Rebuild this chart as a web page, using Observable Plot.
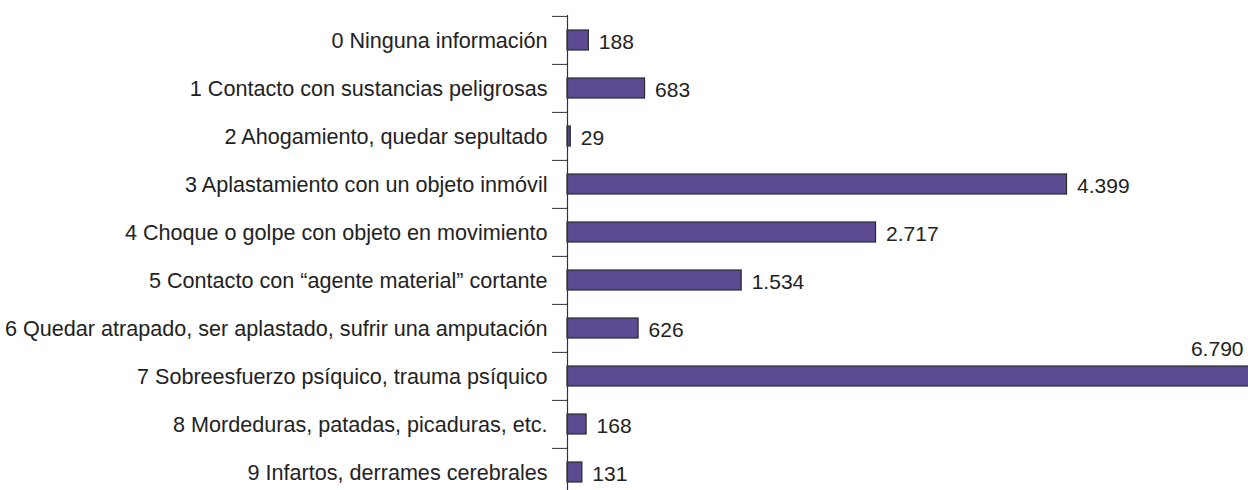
<!DOCTYPE html>
<html>
<head>
<meta charset="utf-8">
<script src="https://cdn.jsdelivr.net/npm/d3@7"></script>
<script src="https://cdn.jsdelivr.net/npm/@observablehq/plot@0.6"></script>
<style>
  html, body { margin: 0; padding: 0; background: #fff; overflow: hidden; }
  #chart svg { display: block; font-family: "Liberation Sans", Arial, Helvetica, sans-serif; }
</style>
</head>
<body>
<div id="chart"></div>
<script>
const categories = [
  "0 Ninguna información",
  "1 Contacto con sustancias peligrosas",
  "2 Ahogamiento, quedar sepultado",
  "3 Aplastamiento con un objeto inmóvil",
  "4 Choque o golpe con objeto en movimiento",
  "5 Contacto con “agente material” cortante",
  "6 Quedar atrapado, ser aplastado, sufrir una amputación",
  "7 Sobreesfuerzo psíquico, trauma psíquico",
  "8 Mordeduras, patadas, picaduras, etc.",
  "9 Infartos, derrames cerebrales"
];
const values = [188, 683, 29, 4399, 2717, 1534, 626, 6790, 168, 131];

const data = categories.map((c, i) => ({category: c, value: values[i]}));
const maxValue = d3.max(values);
const fmt = d3.formatLocale({decimal: ",", thousands: ".", grouping: [3]}).format(",d");

const textColor = "#222";
const step = (497 - 15) / categories.length;

const chart = Plot.plot({
  width: 1248,
  height: 490,
  marginLeft: 567,
  marginRight: 5,
  marginTop: 15,
  marginBottom: 0,
  style: {fontFamily: '"Liberation Sans", Arial, Helvetica, sans-serif', background: "#fff"},
  x: {domain: [0, maxValue], range: [567, 1338], axis: null},
  y: {domain: categories, range: [15, 497], padding: 0, label: null},
  marks: [
    Plot.barX(data, {
      x: "value", y: "category",
      fill: "#5c4a92", stroke: "#2a2a2a", strokeWidth: 1.2,
      insetTop: 14, insetBottom: 14
    }),
    Plot.ruleX([0], {stroke: "#333", strokeWidth: 1.2}),
    Plot.axisY({tickSize: 15, tickFormat: () => "", dy: -step / 2, stroke: "#333", label: null}),
    Plot.axisY({tickSize: 0, tickPadding: 20, fontSize: 21.6, fill: textColor, label: null, dy: 1}),
    Plot.text(data.filter(d => d.value !== maxValue), {
      x: "value", y: "category", text: d => fmt(d.value),
      textAnchor: "start", dx: 10, dy: 2, fontSize: 21, fill: textColor
    }),
    Plot.text(data.filter(d => d.value === maxValue), {
      y: "category", text: d => fmt(d.value), frameAnchor: "right",
      textAnchor: "end", dy: -27, fontSize: 21, fill: textColor
    })
  ]
});
document.getElementById("chart").appendChild(chart);
</script>
</body>
</html>
